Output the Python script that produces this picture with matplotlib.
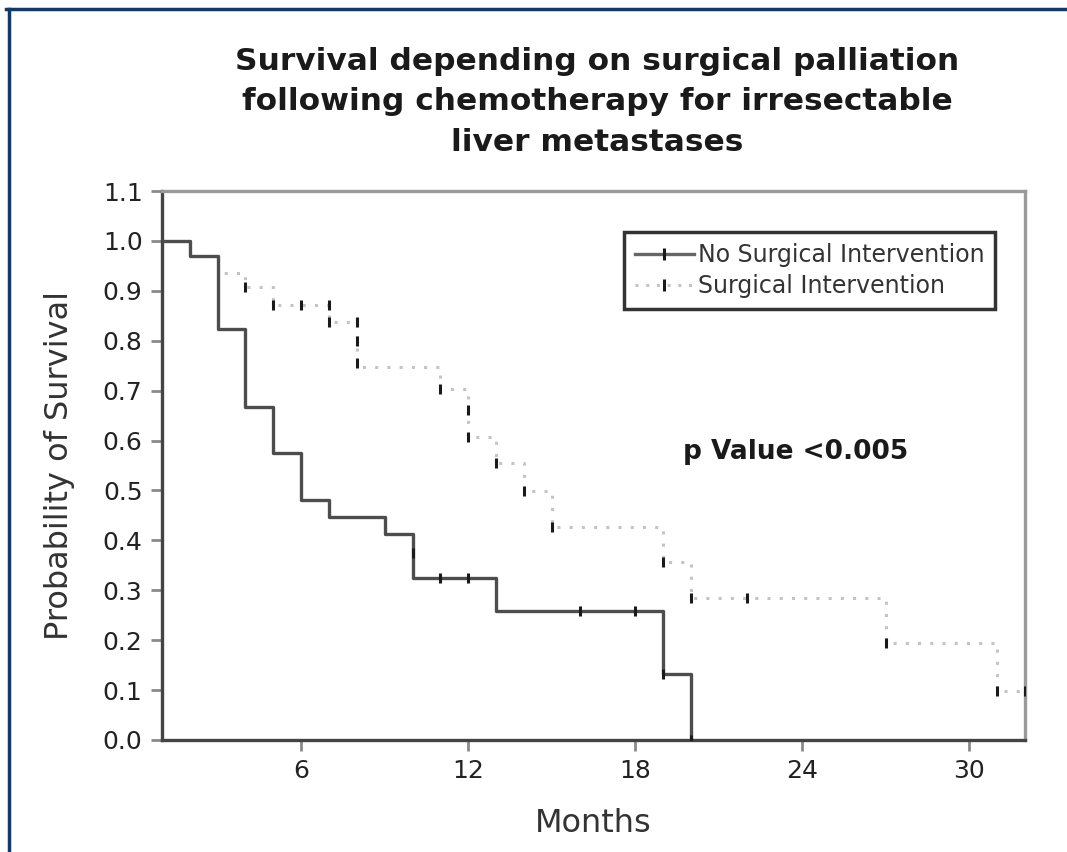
import numpy as np
import matplotlib.pyplot as plt
from matplotlib.lines import Line2D

# Kaplan-Meier steps
months_none = [0, 2, 3, 4, 5, 6, 7, 9, 10, 13, 19, 20]
surv_none = [1.0, 0.97, 0.824, 0.667, 0.575, 0.481, 0.447, 0.413, 0.325, 0.259, 0.132, 0.0]
cens_none_t = [10, 11, 12, 16, 18, 19, 20]
cens_none_y = [0.375, 0.325, 0.325, 0.259, 0.259, 0.132, 0.0]

months_surg = [0, 2, 3, 4, 5, 7, 8, 11, 12, 13, 14, 15, 19, 20, 27, 31, 32]
surv_surg = [1.0, 0.97, 0.935, 0.907, 0.872, 0.838, 0.748, 0.703, 0.608, 0.555,
             0.498, 0.427, 0.357, 0.284, 0.194, 0.099, 0.099]
cens_surg_t = [4, 5, 6, 7, 7, 8, 8, 8, 11, 12, 12, 13, 14, 15, 19, 20, 22, 27, 31, 32]
cens_surg_y = [0.907, 0.872, 0.872, 0.872, 0.838, 0.838, 0.80, 0.755, 0.703, 0.661,
               0.608, 0.555, 0.498, 0.427, 0.357, 0.284, 0.284, 0.194, 0.099, 0.099]

x_ticks = [6, 12, 18, 24, 30]
y_ticks = np.round(np.arange(0, 1.11, 0.1), 1)

solid_col = '#4d4d4d'
dot_col = '#c4c4c4'

fig = plt.figure(figsize=(10.67, 8.52), dpi=100)
ax = fig.add_axes([0.1518, 0.1315, 0.8088, 0.6443])

ax.step(months_surg, surv_surg, where='post', color=dot_col, lw=2.2,
        linestyle=(0, (1, 3)), zorder=2)
ax.step(months_none, surv_none, where='post', color=solid_col, lw=2.4, zorder=3)
ax.plot(cens_surg_t, cens_surg_y, ls='none', marker='|', ms=7, mew=2.2,
        color='#1a1a1a', zorder=4)
ax.plot(cens_none_t, cens_none_y, ls='none', marker='|', ms=7, mew=2.2,
        color='#1a1a1a', zorder=4)

ax.set_xlim(1, 32)
ax.set_ylim(0, 1.1)
ax.set_xticks(x_ticks)
ax.set_yticks(y_ticks)
ax.set_yticklabels(['%.1f' % v for v in y_ticks])
ax.tick_params(axis='both', direction='out', length=8, width=2, color='#8a8a8a',
               labelsize=18, labelcolor='#222222', pad=6)

for side in ['left', 'bottom']:
    ax.spines[side].set_color('#444444')
    ax.spines[side].set_linewidth(2.4)
for side in ['top', 'right']:
    ax.spines[side].set_color('#9a9a9a')
    ax.spines[side].set_linewidth(2.4)

ax.set_xlabel('Months', fontsize=23, color='#333333', labelpad=18)
ax.set_ylabel('Probability of Survival', fontsize=23, color='#333333', labelpad=20)

handles = [
    Line2D([], [], color='#666666', lw=2.4, marker='|', ms=8, mew=2.2,
           mec='#1a1a1a'),
    Line2D([], [], color=dot_col, lw=2.2, ls=(0, (1, 2.5)), marker='|', ms=8,
           mew=2.2, mec='#1a1a1a'),
]
leg = ax.legend(handles, ['No Surgical Intervention', 'Surgical Intervention'],
                loc='upper right', bbox_to_anchor=(0.965, 0.925), fontsize=17,
                frameon=True, fancybox=False, framealpha=1, borderpad=0.45,
                labelspacing=0.3, handlelength=2.5, handletextpad=0.15,
                borderaxespad=0)
leg.get_frame().set_edgecolor('#333333')
leg.get_frame().set_linewidth(2.5)
for t in leg.get_texts():
    t.set_color('#333333')

ax.text(19.7, 0.577, 'p Value <0.005', fontsize=19, fontweight='bold',
        color='#1a1a1a', va='center', ha='left')

fig.text(0.56, 0.945, 'Survival depending on surgical palliation\n'
         'following chemotherapy for irresectable\nliver metastases',
         ha='center', va='top', fontsize=22.5, fontweight='bold', color='#1a1a1a',
         linespacing=1.5)

# navy frame on the top and left edges of the image
fig.add_artist(Line2D([0.006, 1.0], [0.989, 0.989], color='#0b3b6f', lw=2.5,
                      transform=fig.transFigure))
fig.add_artist(Line2D([0.008, 0.008], [0.0, 0.989], color='#0b3b6f', lw=2.5,
                      transform=fig.transFigure))

fig.savefig('out.png', dpi=100)
